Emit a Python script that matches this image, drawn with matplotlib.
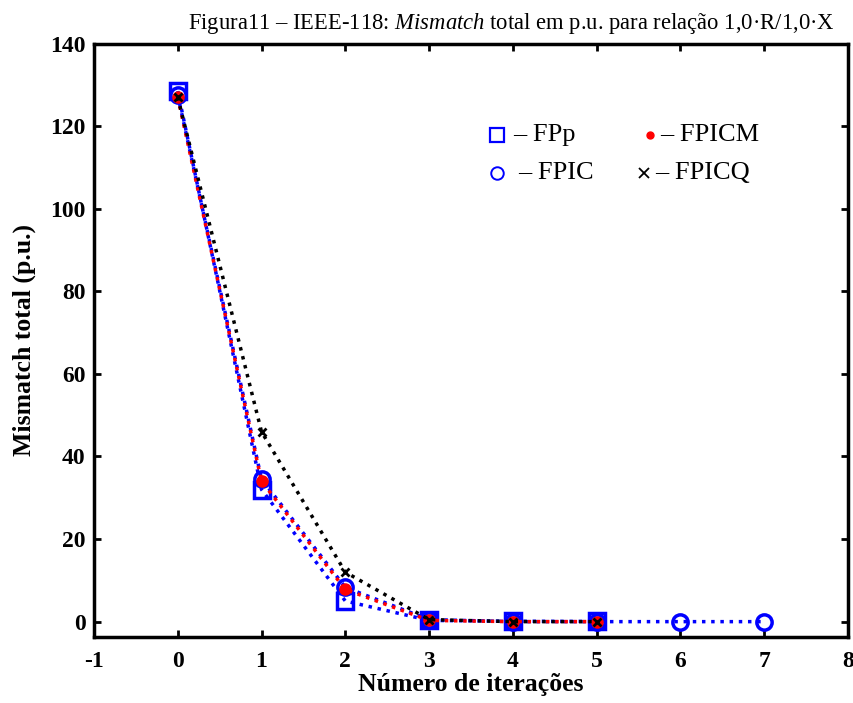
import numpy as np
import matplotlib as m
m.use('Agg')
import matplotlib.pyplot as plt

# values
it_fpp = [0, 1, 2, 3, 4, 5]
fpp = [128.5, 32.0, 5.0, 0.3, 0.1, 0.05]

it_fpic = [0, 1, 2, 3, 4, 5, 6, 7]
fpic = [127.5, 34.5, 8.3, 0.5, 0.0, 0.0, 0.0, 0.0]

it_fpicm = [0, 1, 2, 3, 4, 5]
fpicm = [127.0, 34.0, 7.8, 0.3, 0.0, 0.0]

it_fpicq = [0, 1, 2, 3, 4, 5]
fpicq = [127.0, 46.0, 12.0, 0.5, 0.0, 0.0]

xticks = [-1, 0, 1, 2, 3, 4, 5, 6, 7, 8]
yticks = [0, 20, 40, 60, 80, 100, 120, 140]


def main():
  plt.rcParams['font.family'] = ['Liberation Serif', 'DejaVu Serif']
  plt.rcParams['mathtext.fontset'] = 'custom'
  plt.rcParams['mathtext.rm'] = 'Liberation Serif'
  plt.rcParams['mathtext.it'] = 'Liberation Serif:italic'
  plt.rcParams['axes.unicode_minus'] = False

  fig = plt.figure(figsize=(8.54, 7.03), dpi=100)
  ax = fig.add_axes([0.110, 0.094, 0.883, 0.844])

  blue = '#0000ff'
  ax.plot(it_fpp, fpp, ':', color=blue, lw=2.5, marker='s', ms=11,
          mfc='none', mec=blue, mew=2.5)
  ax.plot(it_fpic, fpic, ':', color=blue, lw=2.5, marker='o', ms=11,
          mfc='none', mec=blue, mew=2.5)
  ax.plot(it_fpicm, fpicm, ':', color='red', lw=2.5, marker='o', ms=8,
          mfc='red', mec='red')
  ax.plot(it_fpicq, fpicq, ':', color='black', lw=2.5, marker='x', ms=6,
          mec='black', mew=2)

  ax.set_xlim(-1, 8)
  ax.set_ylim(-3.7, 140)
  ax.set_xticks(xticks)
  ax.set_yticks(yticks)
  ax.tick_params(direction='in', length=5, width=2, top=True, right=True,
                 labelsize=17, pad=6)
  ax.tick_params(axis='x', pad=10)
  for lab in ax.get_xticklabels() + ax.get_yticklabels():
    lab.set_fontweight('bold')
  for sp in ax.spines.values():
    sp.set_linewidth(2.5)

  ax.set_xlabel('Número de iterações', fontsize=18.5, fontweight='bold', labelpad=1)
  ax.set_ylabel('Mismatch total (p.u.)', fontsize=18.5, fontweight='bold', labelpad=10)

  fig.text(0.599, 0.967, r'Figura11 – IEEE-118: $\mathit{Mismatch}$ total em p.u. para relação 1,0·R/1,0·X',
           ha='center', va='center', fontsize=16.3)

  # legend drawn as marker + text, like the original
  ax.plot([3.81], [117.8], 's', ms=10, mfc='none', mec=blue, mew=1.6)
  ax.text(4.0, 117.8, '– FPp', fontsize=19, va='center')
  ax.plot([5.64], [117.8], 'o', ms=5, mfc='red', mec='red')
  ax.text(5.76, 117.8, '– FPICM', fontsize=19, va='center')
  ax.plot([3.81], [108.6], 'o', ms=9, mfc='none', mec=blue, mew=1.4)
  ax.text(4.06, 108.6, '– FPIC', fontsize=19, va='center')
  ax.plot([5.56], [108.6], 'x', ms=7, mec='black', mew=1.3)
  ax.text(5.70, 108.6, '– FPICQ', fontsize=19, va='center')

  plt.savefig('out.png', dpi=100)


if __name__ == '__main__':
  main()
